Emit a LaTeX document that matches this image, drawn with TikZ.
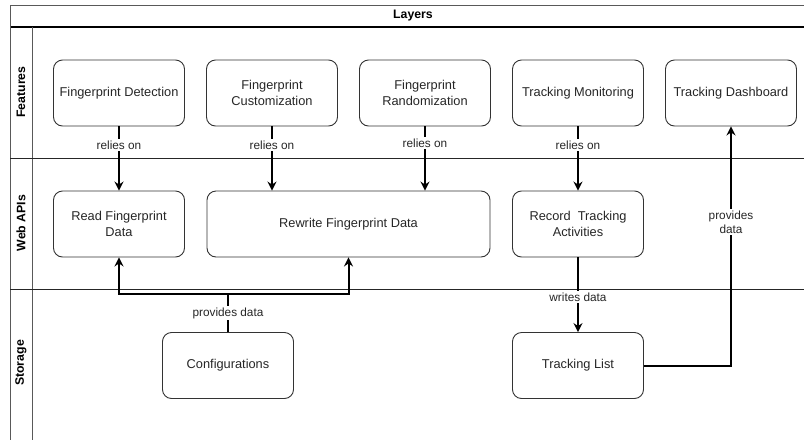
\documentclass[tikz,border=0pt]{standalone}
\usepackage{fontspec}
\setmainfont{Liberation Sans}
\usetikzlibrary{arrows.meta,positioning}
\tikzset{>={Stealth[length=9pt,width=9pt,inset=3pt]}}
\tikzset{box/.style={draw=black!80,line width=0.9pt,rounded corners=9pt,minimum width=131pt,minimum height=66pt,align=center,inner sep=2pt,text=black!85,font=\fontsize{12.8}{15.5}\selectfont}}
\tikzset{lbl/.style={fill=white,inner sep=1.5pt,text=black!85,align=center,font=\fontsize{11.8}{13.5}\selectfont}}
\tikzset{lane/.style={rotate=90,font=\bfseries\fontsize{12.3}{14}\selectfont}}
\tikzset{link/.style={line width=2pt}}

\begin{document}
\begin{tikzpicture}[x=1pt,y=-1pt]
  \useasboundingbox (0,0) rectangle (804,440);

  % Pool
  \draw[black!65] (10,5) -- (804,5);
  \draw[line width=1.2pt] (10,27) -- (804,27);
  \draw[black!65] (10,5) -- (10,440);
  \draw[black!65] (32,27) -- (32,440);
  \draw[black!85] (10,158) -- (804,158);
  \draw[black!85] (10,289) -- (804,289);
  \node[font=\bfseries\fontsize{12.3}{14}\selectfont] (title) at (413,16) {Layers};

  % Lanes
  \node[lane] (lfeat) at (21,92) {Features};
  \node[lane] (lweb) at (21,223) {Web APIs};
  \node[lane] (lstore) at (21,363) {Storage};

  % Features
  \node[box] (fdet) at (119,93) {Fingerprint Detection};
  \node[box] (fcust) at (272,93) {Fingerprint\\Customization};
  \node[box] (frand) at (425,93) {Fingerprint\\Randomization};
  \node[box] (tmon) at (578,93) {Tracking Monitoring};
  \node[box] (tdash) at (731,93) {Tracking Dashboard};

  % Web APIs
  \node[box] (rdata) at (119,224) {Read Fingerprint\\Data};
  \node[box,minimum width=283pt] (rewrite) at (348.5,224) {Rewrite Fingerprint Data};
  \node[box] (record) at (578,224) {Record~ Tracking\\Activities};

  % Storage
  \node[box] (conf) at (228,365.5) {Configurations};
  \node[box] (tlist) at (578,365.5) {Tracking List};

  % Links
  \draw[link,->] (fdet) -- (rdata) node[lbl,pos=0.29] {relies on};
  \draw[link,->] (fcust.south) -- (fcust.south |- rewrite.north) node[lbl,pos=0.29] {relies on};
  \draw[link,->] (frand.south) -- (frand.south |- rewrite.north) node[lbl,pos=0.26] {relies on};
  \draw[link,->] (tmon) -- (record) node[lbl,pos=0.29] {relies on};
  \draw[link,->] (record) -- (tlist) node[lbl,pos=0.53] {writes data};
  \draw[link,->] (tlist.east) -| (tdash.south) node[lbl,pos=0.8] {provides\\data};

  \coordinate (split) at (228,294);
  \draw[link] (conf) -- (split) node[lbl,midway] {provides data};
  \draw[link,->] (split) -| (rdata.south);
  \draw[link,->] (split) -| (rewrite.south);
\end{tikzpicture}
\end{document}
